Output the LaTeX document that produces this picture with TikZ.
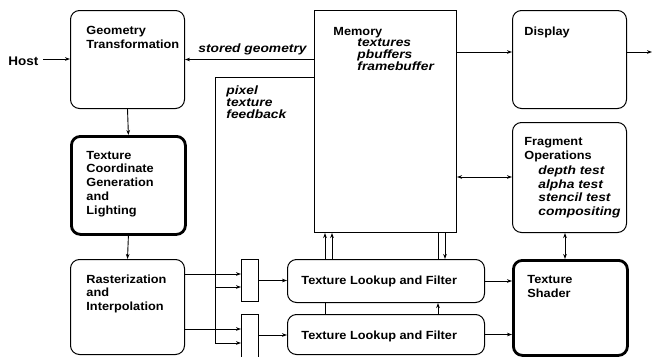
\documentclass[tikz,border=0pt]{standalone}
\usepackage{fontspec}
\setmainfont{Liberation Sans}[FakeStretch=1.08]
\newfontfamily\itfam{Liberation Sans}[FakeStretch=1.15]
\usetikzlibrary{arrows.meta}
\begin{document}
\begin{tikzpicture}[x=1pt,y=-1pt,
 line width=0.9pt,
 arr/.style={-{Stealth[length=5pt,width=3.6pt]}},
 darr/.style={{Stealth[length=5pt,width=3.6pt]}-{Stealth[length=5pt,width=3.6pt]}},
 rbox/.style={draw, rounded corners=9pt, inner sep=0pt, anchor=north west, line width=1pt},
 tbox/.style={rbox, line width=2.8pt},
 sbox/.style={draw, inner sep=0pt, anchor=north west, line width=1pt},
 lbl/.style={font=\fontsize{11.8}{13.5}\selectfont\bfseries, align=left, anchor=base west, inner sep=0pt},
 ilbl/.style={font=\itfam\fontsize{12}{13.5}\selectfont\bfseries\itshape, align=left, anchor=base west, inner sep=0pt},
]
\useasboundingbox (0,0) rectangle (655,356);
% boxes
\node[rbox, minimum width=114pt, minimum height=98pt] (geo) at (70,10) {};
\node[tbox, minimum width=114pt, minimum height=98pt] (tcg) at (70,135) {};
\node[rbox, minimum width=114pt, minimum height=95pt] (rast) at (70,259) {};
\node[sbox, minimum width=142pt, minimum height=222pt] (mem) at (314,10) {};
\node[rbox, minimum width=114pt, minimum height=98pt] (disp) at (512,10) {};
\node[rbox, minimum width=114pt, minimum height=110pt] (frag) at (512,122) {};
\node[sbox, minimum width=17pt, minimum height=42pt] (mux1) at (241,259) {};
\node[sbox, minimum width=17pt, minimum height=46pt] (mux2) at (241,314) {};
\node[rbox, minimum width=197pt, minimum height=43pt] (tlf1) at (287,259) {};
\node[rbox, minimum width=197pt, minimum height=40pt] (tlf2) at (287,314) {};
\node[tbox, minimum width=114pt, minimum height=95pt] (tsh) at (512,259) {};
% texts (anchored at the baseline of the last line)
\node[lbl, font=\fontsize{12.5}{14}\selectfont\bfseries] (host) at (8,65) {Host};
\node[lbl] (geoT) at (86,48) {Geometry\\Transformation};
\node[ilbl] (sgT) at (198,52) {stored geometry};
\node[ilbl, font=\itfam\fontsize{12}{11.7}\selectfont\bfseries\itshape] (fbT) at (226,118) {pixel\\texture\\feedback};
\node[lbl] (memT) at (333,35) {Memory};
\node[ilbl, font=\itfam\fontsize{12}{12}\selectfont\bfseries\itshape] (memI) at (357,70.5) {textures\\pbuffers\\framebuffer};
\node[lbl] (dispT) at (524,35) {Display};
\node[lbl] (fragT) at (524,159) {Fragment\\Operations};
\node[ilbl] (fragI) at (538,215) {depth test\\alpha test\\stencil test\\compositing};
\node[lbl, font=\fontsize{11.8}{13.75}\selectfont\bfseries] (tcgT) at (86,214) {Texture\\Coordinate\\Generation\\and\\Lighting};
\node[lbl] (rastT) at (86,310) {Rasterization\\and\\Interpolation};
\node[lbl] (tshT) at (527,297) {Texture\\Shader};
\node[lbl] (tlf1T) at (301,284) {Texture Lookup and Filter};
\node[lbl] (tlf2T) at (301,339) {Texture Lookup and Filter};
% coordinates
\coordinate (hostout) at (43,59);
\coordinate (fbtop) at (215,77);
\coordinate (fb1) at (215,287);
\coordinate (fb2) at (215,343);
\coordinate (r1) at (0,274);
\coordinate (r2) at (0,329);
\coordinate (m2) at (0,335);
\coordinate (xa) at (325,0);
\coordinate (xb) at (332,0);
\coordinate (xc) at (438,0);
\coordinate (xd) at (445,0);
\coordinate (xe) at (565,0);
\coordinate (yf) at (0,177);
\coordinate (yd) at (0,52);
\coordinate (out) at (652,52);
% connectors
\draw[arr] (hostout) -- (hostout -| geo.west);
\draw[arr] (geo.south) -- (tcg.north);
\draw[arr] (tcg.south) -- (rast.north);
\draw[arr] (mem.west |- geo.east) -- (geo.east);
\draw (mem.west |- fbtop) -- (fbtop) -- (fb2);
\draw[arr] (fb1) -- (fb1 -| mux1.west);
\draw[arr] (fb2) -- (fb2 -| mux2.west);
\draw[arr] (rast.east |- r1) -- (mux1.west |- r1);
\draw[arr] (rast.east |- r2) -- (mux2.west |- r2);
\draw[arr] (mux1.east) -- (mux1.east -| tlf1.west);
\draw[arr] (mux2.east |- m2) -- (tlf2.west |- m2);
\draw[arr] (tlf1.east) -- (tlf1.east -| tsh.west);
\draw[arr] (tlf2.east) -- (tlf2.east -| tsh.west);
\draw[arr] (tlf1.north -| xa) -- (mem.south -| xa);
\draw[arr] (tlf1.north -| xb) -- (mem.south -| xb);
\draw (tlf1.north -| xc) -- (mem.south -| xc);
\draw[arr] (mem.south -| xd) -- (tlf1.north -| xd);
\draw (tlf2.north -| xa) -- (tlf1.south -| xa);
\draw[arr] (tlf2.north -| xc) -- (tlf1.south -| xc);
\draw[darr] (mem.east |- yf) -- (frag.west |- yf);
\draw[arr] (mem.east |- yd) -- (disp.west |- yd);
\draw[arr] (disp.east |- yd) -- (out);
\draw[darr] (frag.south -| xe) -- (tsh.north -| xe);
\end{tikzpicture}
\end{document}
